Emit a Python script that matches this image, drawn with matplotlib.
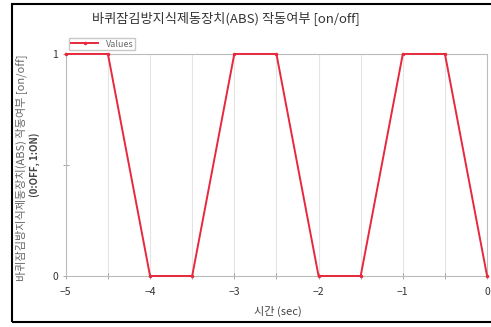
import matplotlib
matplotlib.use('Agg')
import matplotlib.pyplot as plt
from matplotlib.patches import Rectangle
import numpy as np

plt.rcParams['font.family'] = ['Noto Sans CJK KR', 'DejaVu Sans']

# Data
time_sec = [-5.0, -4.5, -4.0, -3.5, -3.0, -2.5, -2.0, -1.5, -1.0, -0.5, 0.0]
abs_state = [1, 1, 0, 0, 1, 1, 0, 0, 1, 1, 0]
x_ticks = [-5, -4, -3, -2, -1, 0]
y_ticks = [0, 1]

title = '바퀴잠김방지식제동장치(ABS) 작동여부 [on/off]'
ylabel_1 = '바퀴잠김방지식제동장치(ABS) 작동여부 [on/off]'
ylabel_2 = '(0:OFF, 1:ON)'
xlabel = '시간 (sec)'

fig = plt.figure(figsize=(4.91, 3.27), dpi=100)
ax = fig.add_axes([0.134, 0.156, 0.858, 0.679])

ax.plot(time_sec, abs_state, color='#e8283c', linewidth=1.4,
        marker='.', markersize=3, label='Values', clip_on=False, zorder=5)

ax.set_xlim(-5, 0)
ax.set_ylim(0, 1)
ax.set_xticks(x_ticks)
ax.set_xticks(np.arange(-5, 0.01, 0.5), minor=True)
ax.set_yticks(y_ticks)
ax.set_yticks([0.5], minor=True)
ax.grid(True, which='both', axis='x', color='#e4e4e4', linewidth=0.8)
ax.tick_params(which='both', direction='inout', colors='#999999',
               labelcolor='#333333', labelsize=7.5, length=4, width=0.6)
ax.tick_params(axis='x', pad=6)
for s in ax.spines.values():
    s.set_color('#bbbbbb')
    s.set_linewidth(0.8)

fig.text(226 / 491, 1 - 18 / 327, title, fontsize=9.5, color='#333333',
         ha='center', va='center')
fig.text(278 / 491, 1 - 311 / 327, xlabel, fontsize=8, color='#444444',
         ha='center', va='center')
fig.text(21 / 491, 1 - 168 / 327, ylabel_1, fontsize=8, color='#666666',
         rotation=90, ha='center', va='center')
fig.text(35 / 491, 1 - 165 / 327, ylabel_2, fontsize=7, color='#444444',
         fontweight='bold', rotation=90, ha='center', va='center')

ax.legend(loc='lower left', bbox_to_anchor=(0.0, 1.0), fontsize=6.5,
          frameon=True, edgecolor='#bbbbbb', fancybox=False,
          labelcolor='#666666', borderpad=0.2, handlelength=3,
          borderaxespad=0.4)

fig.patches.append(Rectangle((12 / 491, 5 / 327), 1.0, 318 / 327,
                             transform=fig.transFigure, fill=False,
                             edgecolor='black', linewidth=1.5))

fig.savefig('out.png', dpi=100)
